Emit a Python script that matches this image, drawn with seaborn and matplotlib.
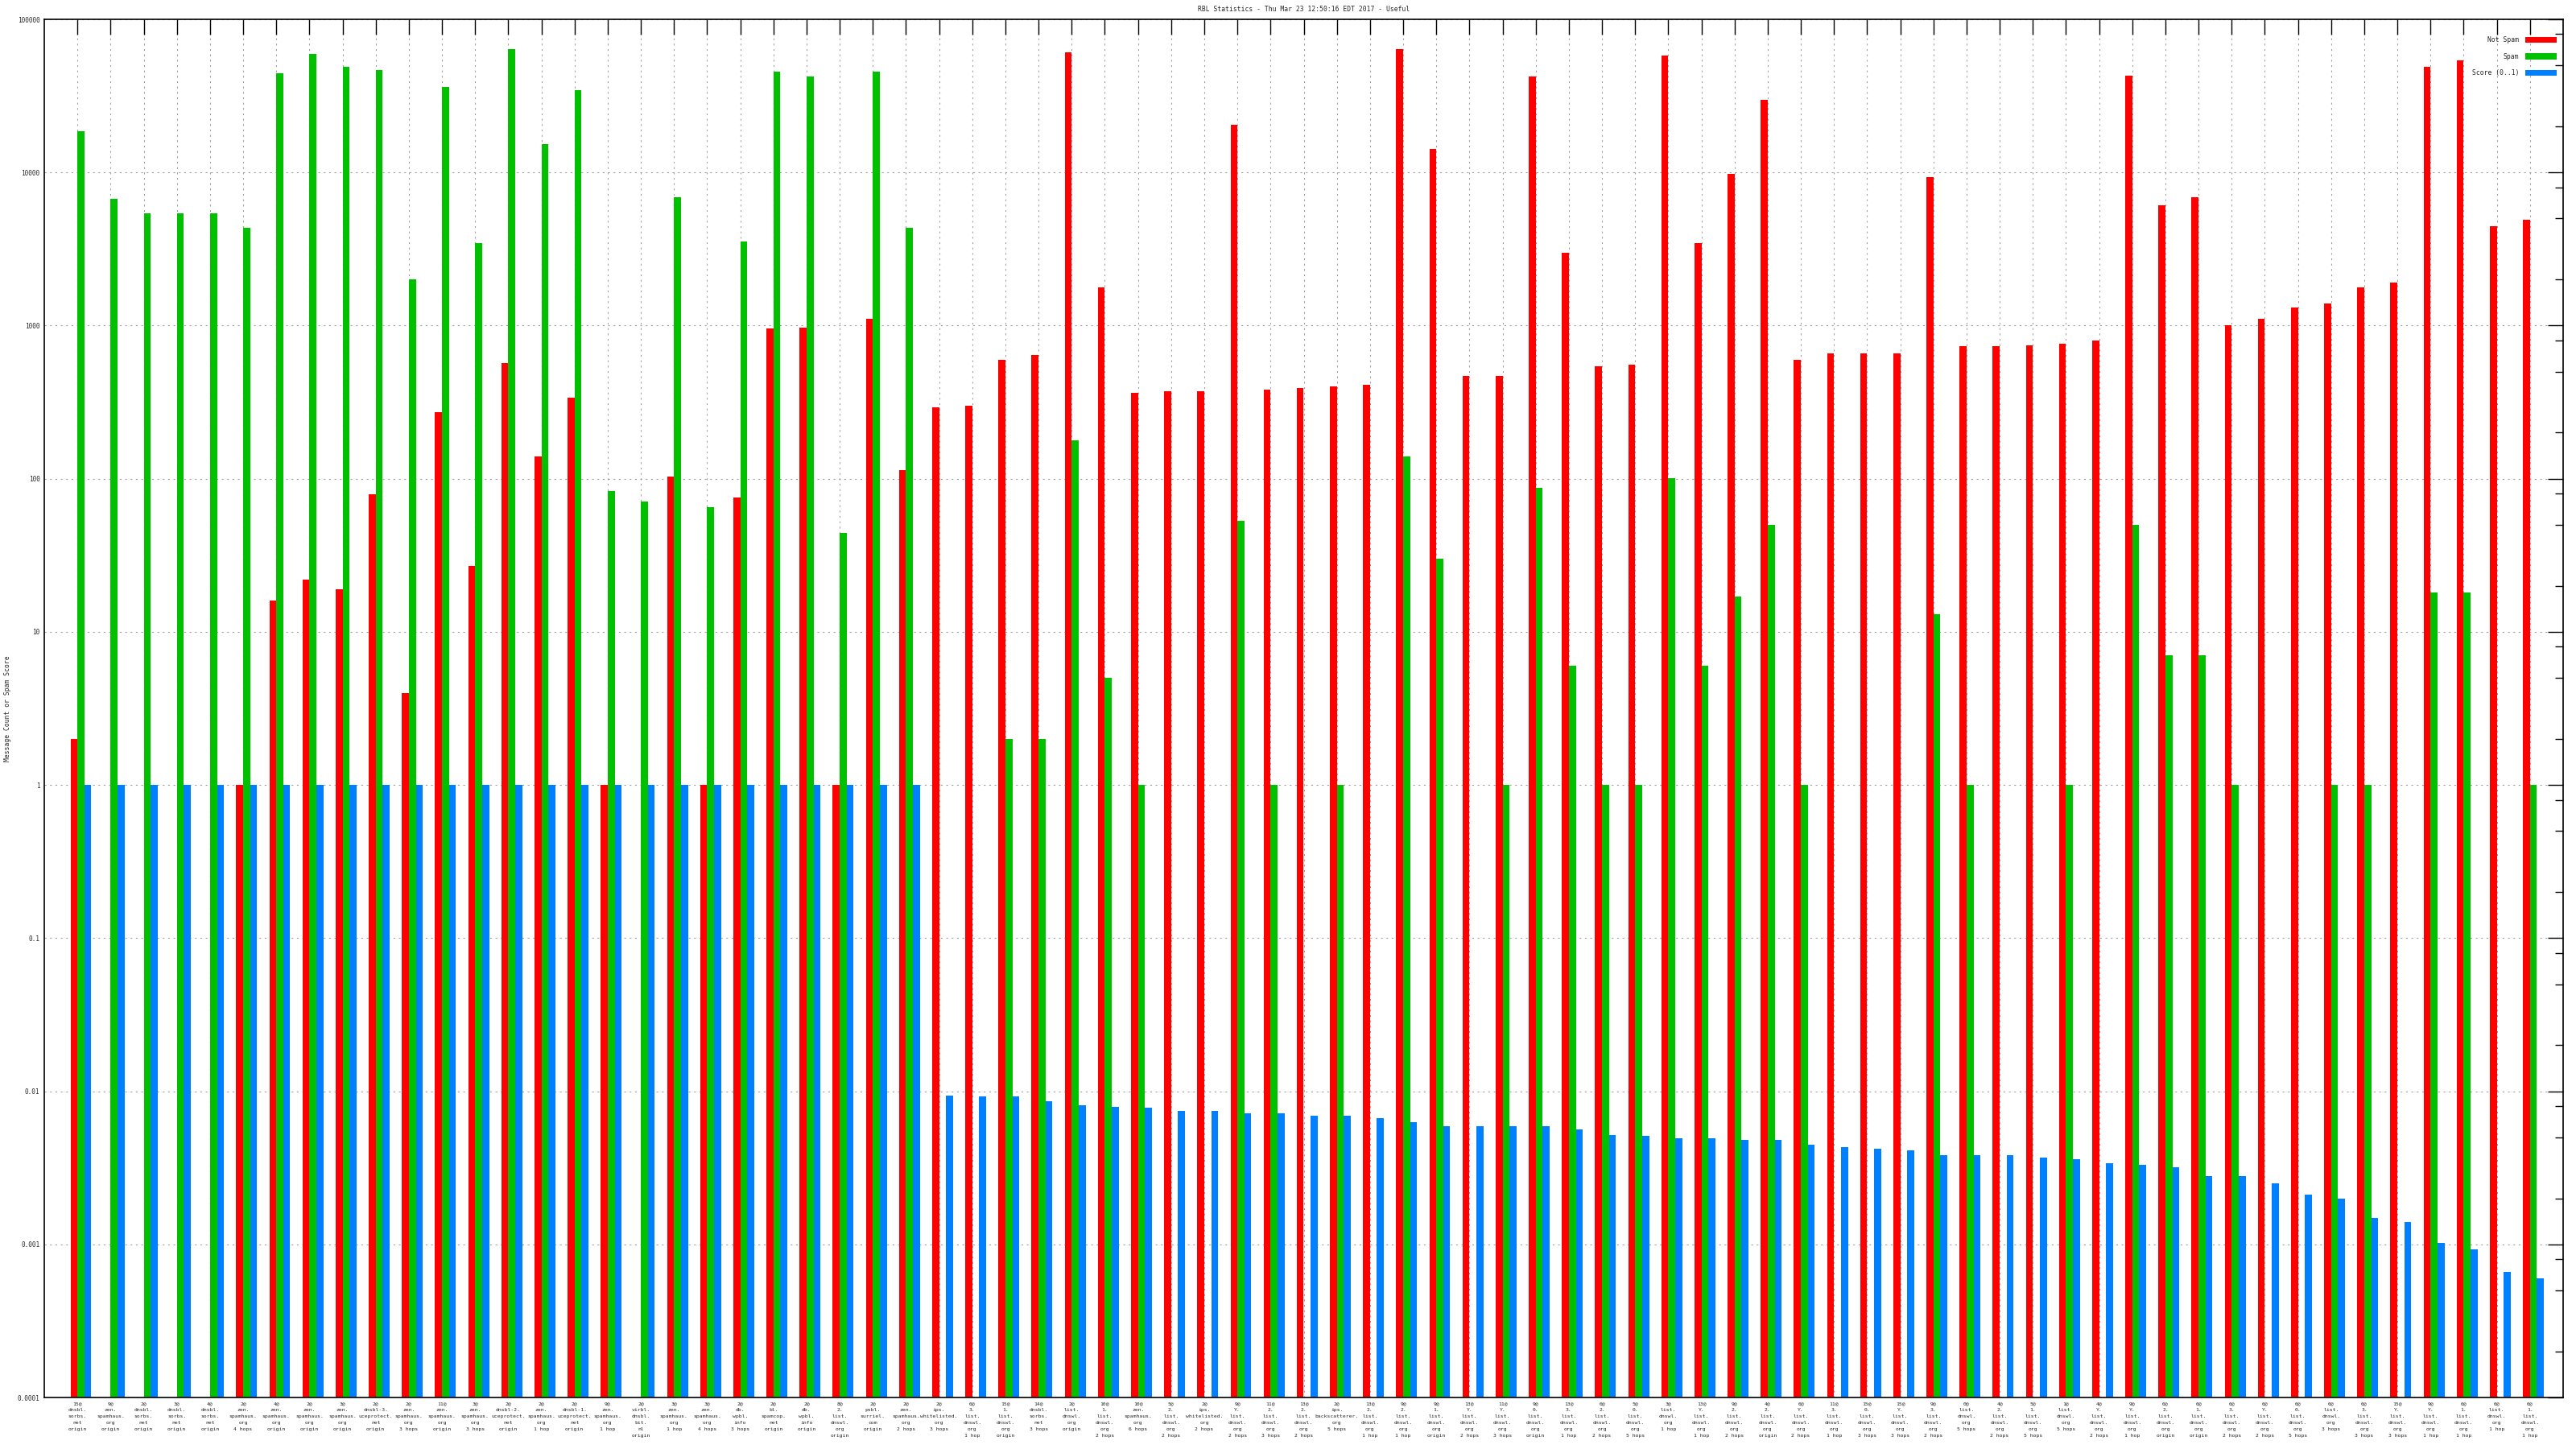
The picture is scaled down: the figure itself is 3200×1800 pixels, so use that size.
import numpy as np
import pandas as pd
import seaborn as sns
import matplotlib.pyplot as plt
from matplotlib.ticker import LogLocator, NullFormatter, NullLocator

nan = np.nan

title = "RBL Statistics - Thu Mar 23 12:50:16 EDT 2017 - Useful"
ylabel = "Message Count or Spam Score"
series = ["Not Spam", "Spam", "Score (0..1)"]
colors = ["#ff0000", "#00c000", "#0080ff"]

# x labels: "<hits>@ <rbl host> <hops>"
hits = [15, 9, 2, 3, 4, 2, 4, 2, 3, 2, 2, 11, 3, 2, 2, 2, 9, 2, 3, 3,
        2, 2, 2, 8, 2, 2, 2, 6, 15, 14, 2, 10, 10, 5, 2, 9, 11, 13, 2, 13,
        9, 9, 13, 11, 9, 13, 6, 5, 3, 13, 9, 4, 6, 11, 15, 15, 9, 0, 4, 5,
        1, 4, 9, 6, 6, 6, 6, 6, 6, 6, 15, 9, 6, 6, 6]
hosts = ["dnsbl.sorbs.net", "zen.spamhaus.org", "dnsbl.sorbs.net", "dnsbl.sorbs.net",
         "dnsbl.sorbs.net", "zen.spamhaus.org", "zen.spamhaus.org", "zen.spamhaus.org",
         "zen.spamhaus.org", "dnsbl-3.uceprotect.net", "zen.spamhaus.org", "zen.spamhaus.org",
         "zen.spamhaus.org", "dnsbl-2.uceprotect.net", "zen.spamhaus.org", "dnsbl-1.uceprotect.net",
         "zen.spamhaus.org", "virbl.dnsbl.bit.nl", "zen.spamhaus.org", "zen.spamhaus.org",
         "db.wpbl.info", "bl.spamcop.net", "db.wpbl.info", "2.list.dnswl.org",
         "psbl.surriel.com", "zen.spamhaus.org", "ips.whitelisted.org", "3.list.dnswl.org",
         "1.list.dnswl.org", "dnsbl.sorbs.net", "list.dnswl.org", "1.list.dnswl.org",
         "zen.spamhaus.org", "2.list.dnswl.org", "ips.whitelisted.org", "Y.list.dnswl.org",
         "2.list.dnswl.org", "2.list.dnswl.org", "ips.backscatterer.org", "2.list.dnswl.org",
         "2.list.dnswl.org", "1.list.dnswl.org", "Y.list.dnswl.org", "Y.list.dnswl.org",
         "0.list.dnswl.org", "3.list.dnswl.org", "2.list.dnswl.org", "0.list.dnswl.org",
         "list.dnswl.org", "Y.list.dnswl.org", "2.list.dnswl.org", "2.list.dnswl.org",
         "Y.list.dnswl.org", "3.list.dnswl.org", "0.list.dnswl.org", "Y.list.dnswl.org",
         "3.list.dnswl.org", "list.dnswl.org", "2.list.dnswl.org", "1.list.dnswl.org",
         "list.dnswl.org", "Y.list.dnswl.org", "Y.list.dnswl.org", "2.list.dnswl.org",
         "1.list.dnswl.org", "3.list.dnswl.org", "Y.list.dnswl.org", "0.list.dnswl.org",
         "list.dnswl.org", "3.list.dnswl.org", "Y.list.dnswl.org", "Y.list.dnswl.org",
         "1.list.dnswl.org", "list.dnswl.org", "1.list.dnswl.org"]
hops = ["origin", "origin", "origin", "origin", "origin", "4 hops", "origin", "origin",
        "origin", "origin", "3 hops", "origin", "3 hops", "origin", "1 hop", "origin",
        "1 hop", "origin", "1 hop", "4 hops", "3 hops", "origin", "origin", "origin",
        "origin", "2 hops", "3 hops", "1 hop", "origin", "3 hops", "origin", "2 hops",
        "6 hops", "2 hops", "2 hops", "2 hops", "3 hops", "2 hops", "5 hops", "1 hop",
        "1 hop", "origin", "2 hops", "3 hops", "origin", "1 hop", "2 hops", "5 hops",
        "1 hop", "1 hop", "2 hops", "origin", "2 hops", "1 hop", "3 hops", "3 hops",
        "2 hops", "5 hops", "2 hops", "5 hops", "5 hops", "2 hops", "1 hop", "origin",
        "origin", "2 hops", "2 hops", "5 hops", "3 hops", "3 hops", "3 hops", "1 hop",
        "1 hop", "1 hop", "1 hop"]

not_spam = [2, nan, nan, nan, nan, 1, 16, 22, 19, 79, 4, 271, 27, 569, 139, 339, 1, nan, 103, 1,
            75, 957, 970, 1, 1110, 114, 292, 300, 598, 644, 61000, 1775, 365, 373, 373, 20500,
            382, 391, 403, 412, 64100, 14200, 467, 467, 42100, 2990, 542, 555, 58000, 3460,
            9780, 29800, 598, 660, 660, 660, 9300, 730, 730, 746, 764, 800, 43100, 6110, 6920,
            1000, 1110, 1320, 1390, 1775, 1910, 48700, 53900, 4430, 4900]
spam = [18600, 6760, 5400, 5400, 5400, 4330, 44200, 59500, 48700, 46400, 2010, 36300, 3460,
        64100, 15300, 34500, 83, 71, 6920, 65, 3560, 45300, 42100, 44, 45300, 4330, nan, nan,
        2, 2, 178, 5, 1, nan, nan, 53, 1, nan, 1, nan, 139, 30, nan, 1, 87, 6, 1, 1, 101, 6,
        17, 50, 1, nan, nan, nan, 13, 1, nan, nan, 1, nan, 50, 7, 7, 1, nan, nan, 1, 1, nan,
        18, 18, nan, 1]
score = [1, 1, 1, 1, 1, 1, 1, 1, 1, 1, 1, 1, 1, 1, 1, 1, 1, 1, 1, 1, 1, 1, 1, 1, 1, 1,
         0.0094, 0.0092, 0.0092, 0.0086, 0.0081, 0.0079, 0.0078, 0.0074, 0.0074, 0.0072,
         0.0072, 0.0069, 0.0069, 0.0067, 0.0063, 0.0059, 0.0059, 0.0059, 0.0059, 0.0056,
         0.0052, 0.0051, 0.0049, 0.0049, 0.0048, 0.0048, 0.0045, 0.0043, 0.0042, 0.0041,
         0.0038, 0.0038, 0.0038, 0.0037, 0.0036, 0.0034, 0.0033, 0.0032, 0.0028, 0.0028,
         0.0025, 0.0021, 0.0020, 0.00148, 0.0014, 0.00102, 0.00093, 0.00066, 0.0006]

ytick_vals = [0.0001, 0.001, 0.01, 0.1, 1, 10, 100, 1000, 10000, 100000]
ytick_labels = ["0.0001", "0.001", "0.01", "0.1", "1", "10", "100", "1000", "10000", "100000"]


def make_label(n, host, hop):
    # break the host name after every dot, like the original
    parts = host.split(".")
    lines = [p + "." for p in parts[:-1]] + [parts[-1]]
    return "\n".join([str(n) + "@"] + lines + [hop])


labels = [make_label(*t) for t in zip(hits, hosts, hops)]
n = len(labels)

df = pd.DataFrame({
    "group": list(range(n)) * 3,
    "series": [s for s in series for _ in range(n)],
    "value": not_spam + spam + score,
})
df = df.dropna()

sns.set_style("white")
plt.rcParams["font.family"] = ["DejaVu Sans Mono"]

W, H = 3200, 1800
left, right, top, bottom = 55, 3184, 24, 1736
fig = plt.figure(figsize=(W / 100, H / 100), dpi=100)
ax = fig.add_axes([left / W, 1 - bottom / H, (right - left) / W, (bottom - top) / H])

sns.barplot(data=df, x="group", y="value", hue="series", order=list(range(n)),
            hue_order=series, palette=colors, saturation=1, width=0.63, gap=0,
            linewidth=0, errorbar=None, ax=ax)

ax.set_yscale("log")
ax.set_ylim(1e-4, 1e5)
ax.set_xlim(-1.105, n - 0.105)

# ticks sit at the red/green boundary of each group
ax.set_xticks(np.arange(n) - 0.105, labels)
ax.set_yticks(ytick_vals, ytick_labels)
ax.yaxis.set_minor_locator(LogLocator(base=10, subs=[2, 5, 8], numticks=50))
ax.yaxis.set_minor_formatter(NullFormatter())
ax.xaxis.set_minor_locator(NullLocator())
ax.tick_params(axis="both", which="both", direction="in", top=True, right=True, color="black")
ax.tick_params(which="major", length=13.5, width=1)
ax.tick_params(which="minor", length=7, width=1)
ax.tick_params(axis="x", labelsize=4.6, pad=3.5)
ax.tick_params(axis="y", labelsize=5.6, pad=4)
for t in ax.get_xticklabels():
    t.set_linespacing(1.75)

ax.grid(True, which="major", color="#a0a0a0", linestyle=(0, (2, 4)), linewidth=0.8)
ax.set_axisbelow(True)
for sp in ax.spines.values():
    sp.set_color("black")
    sp.set_linewidth(1.2)

ax.set_xlabel("")
ax.set_ylabel("")

handles, labs = ax.get_legend_handles_labels()
ax.legend(handles, labs, loc="upper right", bbox_to_anchor=(3176 / W, 1 - 45 / H),
          bbox_transform=fig.transFigure, frameon=False, markerfirst=False,
          fontsize=5.8, handlelength=4.8, handleheight=1.0, handletextpad=1.0,
          labelspacing=1.45, borderpad=0, borderaxespad=0)

fig.text((left + right) / 2 / W, 1 - 12 / H, title, ha="center", va="center", fontsize=5.8)
fig.text(10 / W, 1 - (top + bottom) / 2 / H, ylabel, rotation=90,
         ha="center", va="center", fontsize=5.8)

fig.savefig("out.png", dpi=100)
